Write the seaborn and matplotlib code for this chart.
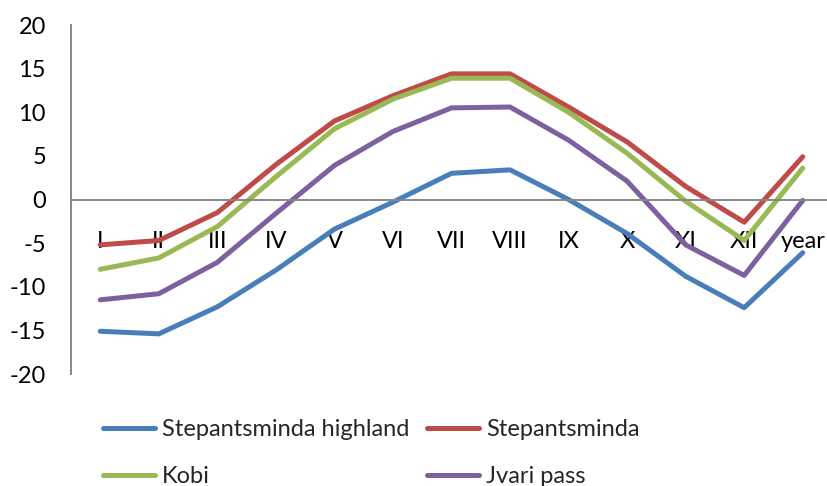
import numpy as np
import pandas as pd
import matplotlib
matplotlib.use("Agg")
import matplotlib.pyplot as plt
import seaborn as sns

# Mean air temperature by month and for the year (°C)
months = ["I", "II", "III", "IV", "V", "VI", "VII", "VIII", "IX", "X", "XI", "XII", "year"]
stepantsminda_highland = [-15.1, -15.4, -12.3, -8.1, -3.4, -0.3, 3.0, 3.4, 0.0, -3.9, -8.8, -12.4, -6.1]
stepantsminda = [-5.2, -4.7, -1.5, 4.0, 9.0, 11.9, 14.4, 14.4, 10.6, 6.6, 1.5, -2.6, 4.9]
kobi = [-8.0, -6.7, -3.1, 2.6, 8.1, 11.5, 13.9, 13.9, 10.0, 5.3, -0.2, -4.7, 3.6]
jvari_pass = [-11.5, -10.8, -7.2, -1.6, 3.9, 7.8, 10.5, 10.6, 6.8, 2.1, -5.2, -8.7, -0.1]

series_names = ["Stepantsminda highland", "Stepantsminda", "Kobi", "Jvari pass"]
series_values = [stepantsminda_highland, stepantsminda, kobi, jvari_pass]
palette = ["#4A7EBB", "#BE4B48", "#98B954", "#7D60A0"]

df = pd.DataFrame({
    "pos": np.tile(np.arange(len(months)), len(series_names)),
    "temp": np.concatenate(series_values),
    "station": np.repeat(series_names, len(months)),
})

sns.set_style("white")
plt.rcParams["font.family"] = ["Lato", "DejaVu Sans"]
plt.rcParams["axes.unicode_minus"] = False
fs = 17

fig = plt.figure(figsize=(8.27, 4.86), dpi=100)
ax = fig.add_axes([71 / 827, 1 - 374 / 486, (832 - 71) / 827, (374 - 25) / 486])

sns.lineplot(data=df, x="pos", y="temp", hue="station", hue_order=series_names,
             palette=palette, linewidth=3.6, sort=False, ax=ax, legend=True)

ax.set_xlim(-0.5, len(months) - 0.5)
ax.set_ylim(-20, 20)
ax.set_yticks(np.arange(-20, 21, 5))
ax.set_xticks(np.arange(len(months)))
ax.set_xticklabels(months)
ax.set_xlabel("")
ax.set_ylabel("")

for side in ["top", "right"]:
    ax.spines[side].set_visible(False)
ax.spines["bottom"].set_position(("data", 0))
for side in ["left", "bottom"]:
    ax.spines[side].set_color("#868686")
    ax.spines[side].set_linewidth(1.4)

ax.tick_params(axis="y", length=0, pad=18, labelsize=fs, labelcolor="black")
ax.tick_params(axis="x", length=0, pad=23, labelsize=fs, labelcolor="black")

handles, labels = ax.get_legend_handles_labels()
ax.get_legend().remove()
order = [0, 2, 1, 3]
fig.legend([handles[i] for i in order], [labels[i] for i in order],
           loc="upper left", bbox_to_anchor=(103 / 827, 1 - 419 / 486),
           ncol=2, frameon=False, fontsize=fs, handlelength=2.2,
           handletextpad=0.3, columnspacing=0.75, labelspacing=1.1,
           borderpad=0, borderaxespad=0)

fig.savefig("out.png", dpi=100)
